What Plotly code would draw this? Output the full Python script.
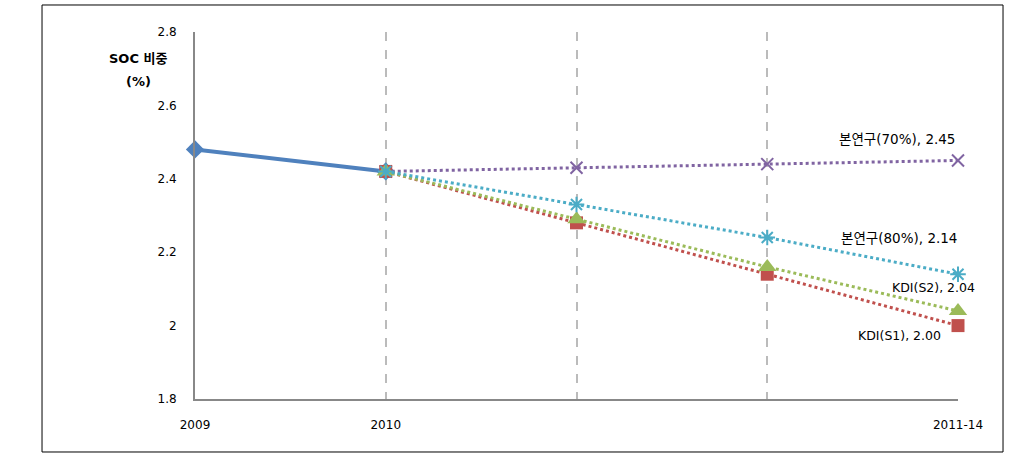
import plotly.graph_objects as go

categories = ["2009", "2010", "", "", "2011-14"]
x_pos = [0, 1, 2, 3, 4]

actual = [2.48, 2.42]
kdi_s1 = [2.42, 2.28, 2.14, 2.00]
kdi_s2 = [2.42, 2.29, 2.16, 2.04]
study70 = [2.42, 2.43, 2.44, 2.45]
study80 = [2.42, 2.33, 2.24, 2.14]

y_ticks = [1.8, 2.0, 2.2, 2.4, 2.6, 2.8]
y_tick_text = ["1.8", "2", "2.2", "2.4", "2.6", "2.8"]

label_s1 = "KDI(S1), 2.00"
label_s2 = "KDI(S2), 2.04"
label_70 = "본연구(70%), 2.45"
label_80 = "본연구(80%), 2.14"

BLUE = "#4F81BD"
RED = "#C0504D"
GREEN = "#9BBB59"
PURPLE = "#8064A2"
CYAN = "#4BACC6"
FONT = "DejaVu Sans, Noto Sans CJK KR"

fig = go.Figure()

fut_x = x_pos[1:]

fig.add_trace(go.Scatter(x=x_pos[:2], y=actual, mode="lines+markers", cliponaxis=False,
                         line=dict(color=BLUE, width=4),
                         marker=dict(symbol="diamond", size=14, color=BLUE)))
fig.add_trace(go.Scatter(x=fut_x, y=study70, mode="lines+markers", cliponaxis=False,
                         line=dict(color=PURPLE, width=3, dash="dot"),
                         marker=dict(symbol="x-thin-open", size=12, color=PURPLE,
                                     line=dict(color=PURPLE, width=2))))
fig.add_trace(go.Scatter(x=fut_x, y=kdi_s1, mode="lines+markers", cliponaxis=False,
                         line=dict(color=RED, width=3, dash="dot"),
                         marker=dict(symbol="square", size=13, color=RED)))
fig.add_trace(go.Scatter(x=fut_x, y=kdi_s2, mode="lines+markers", cliponaxis=False,
                         line=dict(color=GREEN, width=3, dash="dot"),
                         marker=dict(symbol="triangle-up", size=16, color=GREEN)))
fig.add_trace(go.Scatter(x=fut_x, y=study80, mode="lines+markers", cliponaxis=False,
                         line=dict(color=CYAN, width=3, dash="dot"),
                         marker=dict(symbol="asterisk-open", size=13, color=CYAN,
                                     line=dict(color=CYAN, width=2))))

ann_font = dict(family=FONT, size=13.5, color="#000000")
fig.add_annotation(x=fut_x[-1], y=study70[-1], text=label_70, showarrow=False,
                   xanchor="right", yanchor="middle", xshift=-1, yshift=21, font=ann_font)
fig.add_annotation(x=fut_x[-1], y=study80[-1], text=label_80, showarrow=False,
                   xanchor="right", yanchor="middle", xshift=1, yshift=36, font=ann_font)
fig.add_annotation(x=fut_x[-1], y=kdi_s2[-1], text=label_s2, showarrow=False,
                   xanchor="right", yanchor="middle", xshift=19, yshift=23,
                   font=dict(family=FONT, size=12.5, color="#000000"))
fig.add_annotation(x=fut_x[-1], y=kdi_s1[-1], text=label_s1, showarrow=False,
                   xanchor="right", yanchor="middle", xshift=-15, yshift=-10,
                   font=dict(family=FONT, size=12.5, color="#000000"))

# y axis title (two lines)
title_font = dict(family=FONT, size=13, color="#000000")
fig.add_annotation(xref="paper", yref="paper", x=-0.0747, y=0.929,
                   text="<b>SOC 비중</b>", showarrow=False,
                   xanchor="center", yanchor="middle", font=title_font)
fig.add_annotation(xref="paper", yref="paper", x=-0.0747, y=0.864,
                   text="<b>(%)</b>", showarrow=False,
                   xanchor="center", yanchor="middle", font=title_font)

# outer chart frame
fig.add_shape(type="rect", xref="paper", yref="paper",
              x0=-0.2005, x1=1.059, y0=-0.1444, y1=1.0736,
              line=dict(color="#000000", width=1), fillcolor="rgba(0,0,0,0)",
              layer="below")

fig.update_layout(
    width=1025, height=461,
    margin=dict(l=195, r=67, t=32, b=62),
    plot_bgcolor="white", paper_bgcolor="white",
    showlegend=False,
    font=dict(family=FONT, size=12, color="#000000"),
    xaxis=dict(range=[0, 4], tickmode="array", tickvals=x_pos, ticktext=categories,
               showgrid=True, gridcolor="#BBBBBB", griddash="dash", gridwidth=2,
               showline=True, linecolor="#888888", linewidth=2,
               zeroline=False, ticks="", ticklabelstandoff=14,
               tickfont=dict(family=FONT, size=12)),
    yaxis=dict(range=[1.8, 2.8], tickmode="array", tickvals=y_ticks, ticktext=y_tick_text,
               showgrid=False, showline=True, linecolor="#888888", linewidth=2,
               zeroline=False, ticks="", ticklabelstandoff=14,
               tickfont=dict(family=FONT, size=12)),
)

fig.write_html("out.html")
